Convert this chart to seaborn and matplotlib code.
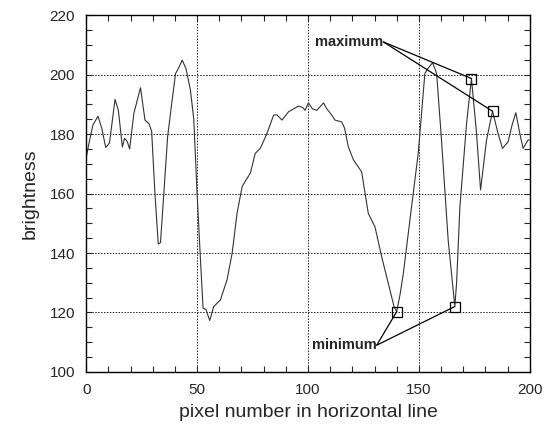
import numpy as np
import matplotlib
matplotlib.use("Agg")
import matplotlib.pyplot as plt
from matplotlib.ticker import MultipleLocator
import seaborn as sns
import pandas as pd

# brightness profile along one horizontal line
pixel = [0, 1, 3, 5.3, 7, 8.8, 10.5, 13, 14.5, 16.3,
         17.3, 18.5, 19.6, 21.5, 24.5, 26.5, 28.3, 29.5, 31, 32.5,
         33.5, 35, 36.7, 38.5, 40.3, 41.5, 43.3, 45, 47, 48.5,
         50, 51.5, 52.7, 54, 55.7, 57.5, 60.5, 63.5, 65.8, 68,
         70.3, 72, 74, 76.2, 78.5, 81.5, 84.5, 86, 88.3, 91.2,
         93.5, 95.7, 97.5, 98.7, 100.2, 102, 104, 107, 108.5, 110.7,
         112.2, 115.2, 116.5, 118.2, 120.5, 124.2, 127.2, 130.2, 133.2, 136.2,
         138.8, 140, 141.5, 143, 146.7, 149.7, 152.7, 154, 156.2, 158,
         160.2, 163.2, 166.2, 167, 168.5, 171.5, 173.7, 176, 177.8, 180.5,
         183.2, 185.7, 187.7, 190.2, 192, 193.7, 195.5, 197, 199.2, 200]
brightness = [172, 176, 183, 186, 182, 175.5, 177, 191.7, 188, 175.7,
              178.6, 177.5, 175, 187, 195.6, 184.7, 183.5, 181, 160, 143,
              143.5, 160, 179, 190, 200.4, 202, 204.9, 202, 194.8, 185,
              160, 138, 121.4, 121, 117.3, 122, 124.2, 131, 139.9, 153.3,
              162.3, 164.5, 166.8, 173.5, 175.2, 180.2, 186.4, 186.5, 184.7, 187.5,
              188.5, 189.4, 189, 188, 190.5, 188.5, 188, 190.5, 188.5, 186.4,
              184.7, 184.1, 182, 175.7, 171.3, 167.3, 153.3, 148.8, 138.8, 129.8,
              122, 120.3, 126, 133.2, 155.6, 173.5, 200.4, 202, 204, 200.4,
              178, 144.4, 122, 130, 155.6, 183.6, 198.7, 180.2, 161.2, 178,
              187.7, 180.2, 175.2, 177.4, 183, 187.2, 180.2, 175.2, 178, 178]

# marked extrema (indices into the profile)
max_idx = [86, 90]
min_idx = [71, 82]

df = pd.DataFrame({"pixel": pixel, "brightness": brightness})

sns.set_style("ticks")
plt.rcParams["font.family"] = ["Liberation Sans", "DejaVu Sans"]

fig = plt.figure(figsize=(5.49, 4.34), dpi=100)
ax = fig.add_axes([0.157, 0.143, 0.808, 0.822])

sns.lineplot(x="pixel", y="brightness", data=df, sort=False, estimator=None,
             color="#333333", linewidth=0.8, ax=ax)

# annotation leaders
max_txt = (134, 211)
min_txt = (131, 109)
for i in max_idx:
    ax.plot([max_txt[0], pixel[i]], [max_txt[1], brightness[i]], color="black", lw=0.9)
for i in min_idx:
    ax.plot([min_txt[0], pixel[i]], [min_txt[1], brightness[i]], color="black", lw=0.9)
ax.plot([pixel[i] for i in max_idx + min_idx], [brightness[i] for i in max_idx + min_idx],
        linestyle="none", marker="s", markersize=6.5, mfc="none", mec="black", mew=0.9)
ax.text(max_txt[0], max_txt[1], "maximum", ha="right", va="center",
        fontsize=10.5, fontweight="bold")
ax.text(min_txt[0], min_txt[1], "minimum", ha="right", va="center",
        fontsize=10.5, fontweight="bold")

ax.set_xlim(0, 200)
ax.set_ylim(100, 220)
ax.xaxis.set_major_locator(MultipleLocator(50))
ax.xaxis.set_minor_locator(MultipleLocator(10))
ax.yaxis.set_major_locator(MultipleLocator(20))
ax.yaxis.set_minor_locator(MultipleLocator(5))
ax.tick_params(which="both", direction="in", top=True, right=True, length=4,
               width=0.8, labelsize=11, pad=8)
ax.grid(True, which="major", color="#222222", linestyle=(0, (1.5, 1.5)), linewidth=0.7)
for s in ax.spines.values():
    s.set_linewidth(1.0)
    s.set_color("black")

ax.set_xlabel("pixel number in horizontal line", fontsize=14, labelpad=5)
ax.set_ylabel("brightness", fontsize=14, labelpad=8)

fig.savefig("out.png", dpi=100)
